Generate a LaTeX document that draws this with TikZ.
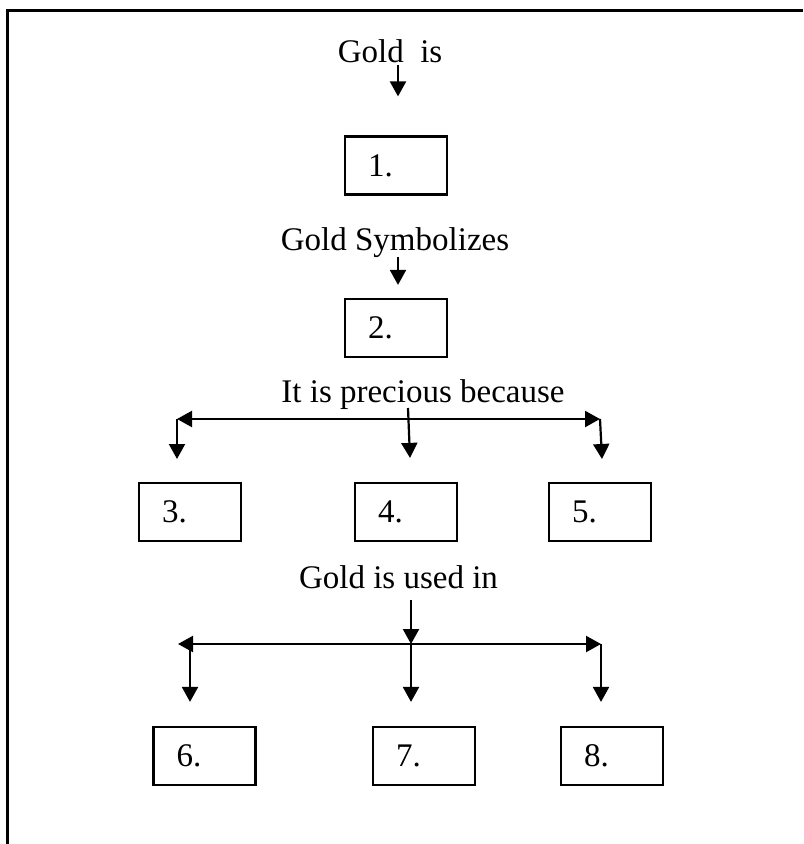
\documentclass[tikz,border=0pt]{standalone}
\usepackage{fontspec}
\setmainfont{Liberation Serif}
\usetikzlibrary{arrows.meta}

\begin{document}
\begin{tikzpicture}[x=0.5pt,y=-0.5pt,line width=1.1pt]
	\tikzset{>={Triangle[width=8pt,length=7.5pt]}}
	\tikzset{answerbox/.style={draw,rectangle,minimum width=51pt,minimum height=29pt,text width=28pt,inner xsep=11.5pt,align=left,font=\fontsize{16.5}{19}\selectfont},
		question/.style={inner sep=0pt,anchor=base,font=\fontsize{16.5}{19}\selectfont}}
	\useasboundingbox (0,0) rectangle (803,844);
	\draw[line width=1.5pt] (7,844) -- (7,11) -- (803,11);
	\node[question] (gold) at (390,63) {Gold~~is};
	\node[answerbox] (b1) at (396,165.5) {1.};
	\node[question] (symb) at (395,250) {Gold Symbolizes};
	\node[answerbox] (b2) at (396,328) {2.};
	\node[question] (prec) at (423,402) {It is precious because};
	\node[answerbox] (b3) at (190,512) {3.};
	\node[answerbox] (b4) at (406,512) {4.};
	\node[answerbox] (b5) at (600,512) {5.};
	\node[question] (used) at (398.5,588) {Gold is used in};
	\node[answerbox] (b6) at (204.5,756) {6.};
	\node[answerbox] (b7) at (424,756) {7.};
	\node[answerbox] (b8) at (612,756) {8.};
	\draw[->] ([xshift=1pt,yshift=-1pt]gold.base -| b1.north) -- ([xshift=1pt,yshift=19.5pt]b1.north);
	\draw[->] ([xshift=1pt,yshift=-3.5pt]symb.base -| b2.north) -- ([xshift=1pt,yshift=6.5pt]b2.north);
	\coordinate (bl1) at (177,419);
	\coordinate (br1) at (600,419);
	\coordinate (d3) at (177,459);
	\coordinate (d5) at (602,459);
	\draw[<->] (bl1) -- (br1);
	\draw[->] ([xshift=1pt,yshift=-3pt]prec.base -| b4.north) -- ([xshift=2pt,yshift=12pt]b4.north);
	\draw[->] (bl1) -- (d3);
	\draw[->] (br1) -- (d5);
	\coordinate (bl2) at (178,644);
	\coordinate (br2) at (601,644);
	\coordinate (bm2) at (411,644);
	\coordinate (bd6) at (190,644);
	\draw[<->] (bl2) -- (br2);
	\draw[->] ([yshift=-6pt]used.base -| bm2) -- (bm2);
	\draw[->] (bm2) -- ([yshift=12pt]b7.north -| bm2);
	\draw[->] (bd6) -- ([yshift=12pt]b6.north -| bd6);
	\draw[->] (br2) -- ([yshift=12pt]b8.north -| br2);
\end{tikzpicture}
\end{document}
